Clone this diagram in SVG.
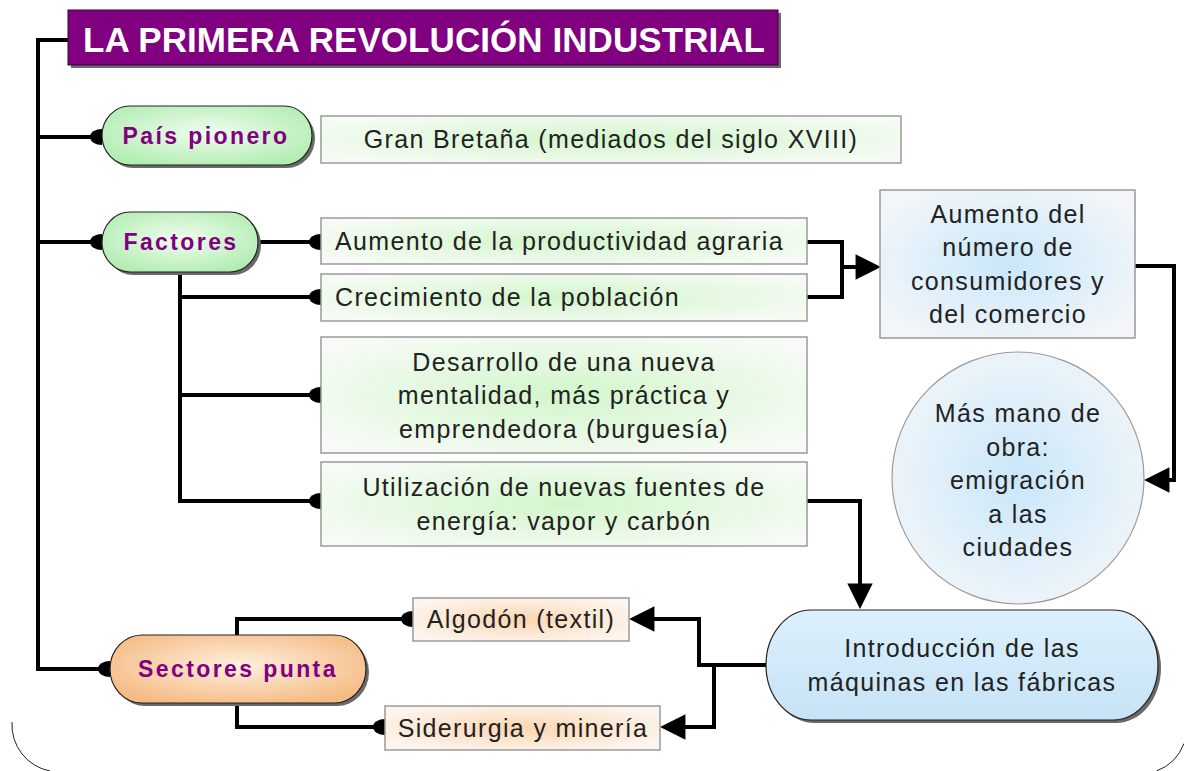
<svg xmlns="http://www.w3.org/2000/svg" width="1184" height="771" viewBox="0 0 1184 771">
<style>
.t{font-family:"Liberation Sans",Arial,sans-serif;font-size:25px;fill:#222;letter-spacing:1.35px}
.c{text-anchor:middle}
.b{font-family:"Liberation Sans",Arial,sans-serif;font-size:23px;font-weight:bold;fill:#800080;letter-spacing:2.4px;text-anchor:middle}
.box{stroke:#9a9a9a;stroke-width:1.5}
.pill{stroke:#222;stroke-width:1.2}
.sh{fill:#6a6a6a}
.ln{fill:none;stroke:#000;stroke-width:4}
.dot{marker-end:url(#dot)}
.arr{marker-end:url(#arr)}
</style>
<defs>
<radialGradient id="gPill" cx="0.5" cy="0.45" r="0.6"><stop offset="0" stop-color="#f0fdf0"/><stop offset="1" stop-color="#b2edb2"/></radialGradient>
<radialGradient id="gBox" cx="0.5" cy="0.5" r="0.6"><stop offset="0" stop-color="#d2f6cb"/><stop offset="1" stop-color="#f6fbf5"/></radialGradient>
<radialGradient id="bBox" cx="0.5" cy="0.5" r="0.6"><stop offset="0" stop-color="#c9e7fa"/><stop offset="1" stop-color="#f3f6f9"/></radialGradient>
<linearGradient id="bPill" x1="0" y1="0" x2="0" y2="1"><stop offset="0" stop-color="#dcf0fc"/><stop offset="1" stop-color="#c6e3f6"/></linearGradient>
<radialGradient id="oPill" cx="0.5" cy="0.45" r="0.6"><stop offset="0" stop-color="#fff0e0"/><stop offset="1" stop-color="#f5bb84"/></radialGradient>
<radialGradient id="oBox" cx="0.5" cy="0.5" r="0.6"><stop offset="0" stop-color="#fbd6b2"/><stop offset="1" stop-color="#fdf6f0"/></radialGradient>
<marker id="dot" markerUnits="userSpaceOnUse" orient="auto" markerWidth="20" markerHeight="20" refX="0" refY="0" viewBox="-13 -10 15 20" overflow="visible"><path d="M0,-8 A12,8 0 0 0 0,8 Z" fill="#000"/></marker>
<marker id="arr" markerUnits="userSpaceOnUse" orient="auto" markerWidth="30" markerHeight="30" refX="0" refY="0" viewBox="-18 -12 26 24" overflow="visible"><path d="M-16,-11 L6,0 L-16,11 Z" fill="#000"/></marker>
</defs>
<rect width="1184" height="771" fill="#fff"/>
<g id="frame" fill="none" stroke="#222" stroke-width="1">
<path d="M12,722 A47,47 0 0 0 50,771"/>
<path d="M1184,743.5 A47,47 0 0 1 1156.5,771"/>
</g>
<g id="connectors">
<path class="ln dot" d="M68,40 H38 V669 H110"/>
<path class="ln dot" d="M38,137 H102"/>
<path class="ln dot" d="M38,242 H102"/>
<path class="ln dot" d="M258,242 H321"/>
<path class="ln dot" d="M180,272 V501 H321"/>
<path class="ln dot" d="M180,297 H321"/>
<path class="ln dot" d="M180,395 H321"/>
<path class="ln" d="M807,242 H842 V297 H807"/>
<path class="ln arr" d="M842,267 H874"/>
<path class="ln arr" d="M1135,266 H1174 V480 H1151"/>
<path class="ln arr" d="M807,501 H860 V602"/>
<path class="ln arr" d="M766,665 H699 V619 H636"/>
<path class="ln arr" d="M699,665 H714 V727 H667"/>
<path class="ln dot" d="M237,635 V619 H413"/>
<path class="ln dot" d="M237,703 V727 H385"/>
</g>
<g id="title">
<rect x="71" y="13" width="710" height="55" class="sh"/>
<rect x="68" y="10" width="710" height="55" fill="#800080" stroke="#3a003a" stroke-width="1"/>
<text x="83" y="52" font-family="Liberation Sans, Arial, sans-serif" font-size="35" font-weight="bold" fill="#fff" textLength="682" lengthAdjust="spacing">LA PRIMERA REVOLUCIÓN INDUSTRIAL</text>
</g>
<g id="pais-pionero">
<rect x="105" y="109" width="210" height="59" rx="28" ry="29.5" class="sh"/>
<rect x="102" y="106" width="210" height="59" rx="28" ry="29.5" fill="url(#gPill)" class="pill"/>
<text x="206" y="144" class="b">País pionero</text>
</g>
<g id="gran-bretana">
<rect x="321" y="116" width="580" height="47" fill="url(#gBox)" class="box"/>
<text x="611" y="148" class="t c">Gran Bretaña (mediados del siglo XVIII)</text>
</g>
<g id="factores">
<rect x="105" y="215" width="156" height="60" rx="28" ry="30" class="sh"/>
<rect x="102" y="212" width="156" height="60" rx="28" ry="30" fill="url(#gPill)" class="pill"/>
<text x="181" y="250" class="b">Factores</text>
</g>
<g id="aumento-productividad">
<rect x="321" y="218" width="486" height="46" fill="url(#gBox)" class="box"/>
<text x="335" y="250" class="t">Aumento de la productividad agraria</text>
</g>
<g id="crecimiento">
<rect x="321" y="274" width="486" height="47" fill="url(#gBox)" class="box"/>
<text x="335" y="306" class="t">Crecimiento de la población</text>
</g>
<g id="desarrollo">
<rect x="321" y="337" width="486" height="116" fill="url(#gBox)" class="box"/>
<text x="564" y="371" class="t c">Desarrollo de una nueva</text>
<text x="564" y="404" class="t c">mentalidad, más práctica y</text>
<text x="564" y="438" class="t c">emprendedora (burguesía)</text>
</g>
<g id="utilizacion">
<rect x="321" y="462" width="486" height="84" fill="url(#gBox)" class="box"/>
<text x="564" y="496" class="t c">Utilización de nuevas fuentes de</text>
<text x="564" y="530" class="t c">energía: vapor y carbón</text>
</g>
<g id="aumento-consumidores">
<rect x="880" y="190" width="255" height="148" fill="url(#bBox)" class="box"/>
<text x="1008" y="223" class="t c">Aumento del</text>
<text x="1008" y="256" class="t c">número de</text>
<text x="1008" y="290" class="t c">consumidores y</text>
<text x="1008" y="323" class="t c">del comercio</text>
</g>
<g id="mano-de-obra">
<circle cx="1018" cy="478" r="126" fill="url(#bBox)" stroke="#9a9a9a" stroke-width="1.2"/>
<text x="1018" y="422" class="t c">Más mano de</text>
<text x="1018" y="456" class="t c">obra:</text>
<text x="1018" y="489" class="t c">emigración</text>
<text x="1018" y="523" class="t c">a las</text>
<text x="1018" y="556" class="t c">ciudades</text>
</g>
<g id="introduccion">
<rect x="769" y="613" width="392" height="110" rx="45" ry="55" class="sh"/>
<rect x="766" y="610" width="392" height="110" rx="45" ry="55" fill="url(#bPill)" class="pill"/>
<text x="962" y="657" class="t c">Introducción de las</text>
<text x="962" y="691" class="t c">máquinas en las fábricas</text>
</g>
<g id="sectores-punta">
<rect x="113" y="638" width="256" height="68" rx="32" ry="34" class="sh"/>
<rect x="110" y="635" width="256" height="68" rx="32" ry="34" fill="url(#oPill)" class="pill"/>
<text x="238" y="677" class="b">Sectores punta</text>
</g>
<g id="algodon">
<rect x="413" y="598" width="216" height="43" fill="url(#oBox)" class="box"/>
<text x="521" y="628" class="t c">Algodón (textil)</text>
</g>
<g id="siderurgia">
<rect x="385" y="706" width="275" height="44" fill="url(#oBox)" class="box"/>
<text x="523" y="737" class="t c">Siderurgia y minería</text>
</g>
</svg>
